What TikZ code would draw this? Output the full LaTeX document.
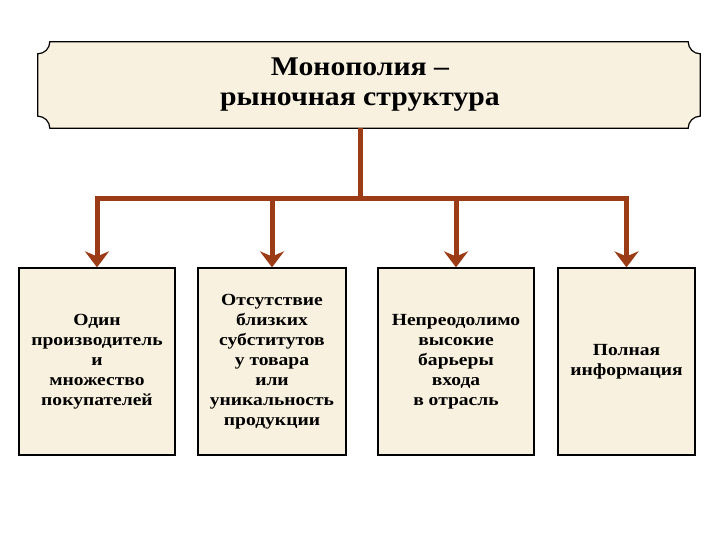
\documentclass[tikz,border=0pt]{standalone}
\usepackage{fontspec}
\setmainfont{Liberation Serif}
\usepackage{xcolor}
\usepackage{tikz}
\usetikzlibrary{arrows.meta, positioning, backgrounds}

\definecolor{parchment}{RGB}{249,241,223}
\definecolor{rust}{RGB}{155,60,22}

\begin{document}
\begin{tikzpicture}[
  x=1pt, y=1pt,
  >={Stealth[length=16pt, width=24pt, inset=5pt]},
  feature/.style={draw, fill=parchment, line width=1.2pt, minimum height=187pt, align=center, inner sep=0pt, font=\bfseries\addfontfeature{FakeStretch=1.15}\fontsize{17}{20}\selectfont},
  link/.style={draw=rust, line width=5pt}
]
\useasboundingbox (0,0) rectangle (720,540);

% title text centred on the stem, plaque runs a bit further right
\node (title) [minimum width=644pt, minimum height=86pt, inner sep=0pt, align=center, font=\bfseries\addfontfeature{FakeStretch=1.1}\fontsize{27}{30}\selectfont] at (360,455) {Монополия –\\рыночная структура};
\begin{scope}[on background layer]
\draw[fill=parchment, line width=1.2pt] ([xshift=12pt]title.north west) -- ([xshift=6pt]title.north east)
  arc[start angle=180, end angle=270, radius=12pt] -- ([xshift=18pt, yshift=12pt]title.south east)
  arc[start angle=90, end angle=180, radius=12pt] -- ([xshift=12pt]title.south west)
  arc[start angle=0, end angle=90, radius=12pt] -- ([yshift=-12pt]title.north west)
  arc[start angle=270, end angle=360, radius=12pt] -- cycle;
\end{scope}

\node (seller) [feature, minimum width=156pt] at (97,178.5) {Один\\производитель\\и\\множество\\покупателей};
\node (substitute) [feature, minimum width=148pt] at (272,178.5) {Отсутствие\\близких\\субститутов\\у товара\\или\\уникальность\\продукции};
\node (barrier) [feature, minimum width=156pt] at (456,178.5) {Непреодолимо\\высокие\\барьеры\\входа\\в отрасль};
\node (info) [feature, minimum width=137pt] at (626.5,178.5) {Полная\\информация};

\draw[link] (title.south) -- ++(0,-70) coordinate (hub);
\draw[link, ->] (hub) -| (seller);
\draw[link, ->] (hub) -| (substitute);
\draw[link, ->] (hub) -| (barrier);
\draw[link, ->] (hub) -| (info);
\end{tikzpicture}
\end{document}
